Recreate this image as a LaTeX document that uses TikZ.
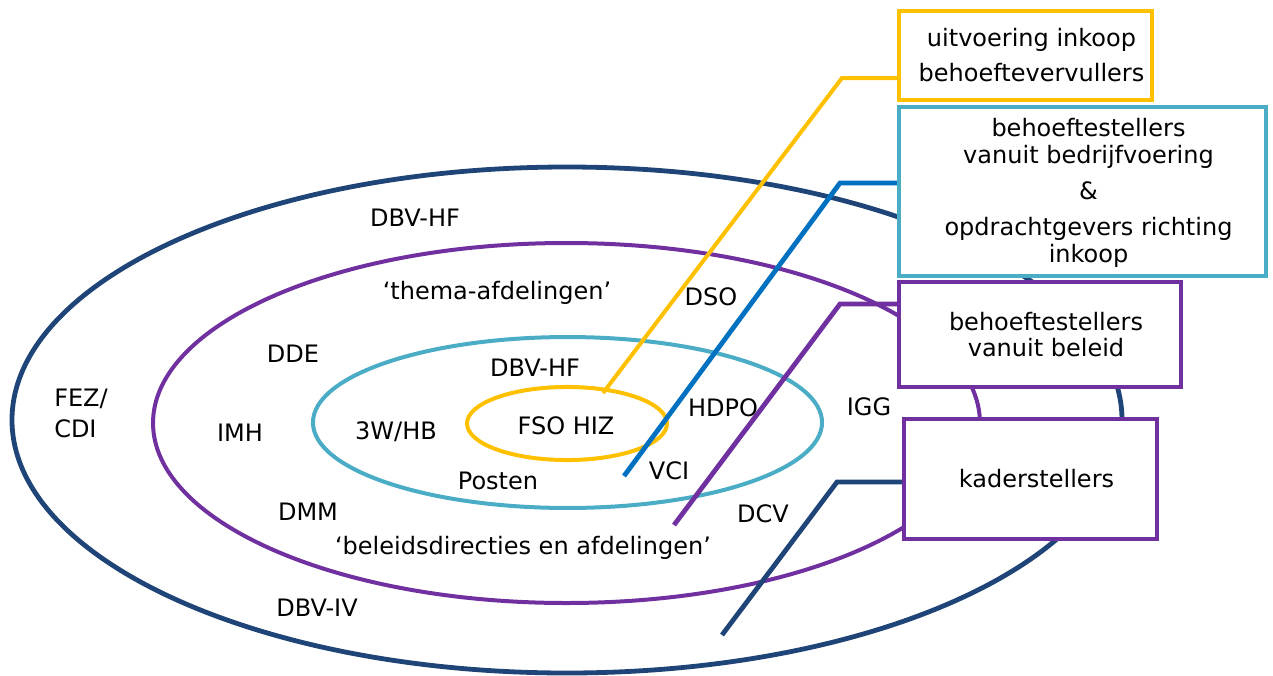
\documentclass[tikz,border=0pt]{standalone}
\usepackage{fontspec}
\setmainfont{DejaVu Sans}
\definecolor{navy}{HTML}{1F4477}
\definecolor{purp}{HTML}{7030A0}
\definecolor{tealc}{HTML}{4BACC6}
\definecolor{gold}{HTML}{FFC000}
\definecolor{bluec}{HTML}{0070C0}
\pgfdeclarelayer{bg}
\pgfsetlayers{bg,main}
\begin{document}
\begin{tikzpicture}[x=0.75pt,y=-0.75pt,
  font=\fontsize{18}{19.8}\selectfont,
  ring/.style={line width=3pt},
  conn/.style={line width=3.6pt},
  box/.style={draw, line width=3pt, fill=white, inner sep=0pt},
  btext/.style={inner sep=0pt, align=center},
  lbl/.style={inner sep=0pt}]
\useasboundingbox (0,0) rectangle (1273,675);

% boxes
\node[box, draw=gold, minimum width=189.75pt, minimum height=66.75pt] (yb) at (1025.5,55.5) {};
\node[btext] (ybt) at ([xshift=4.5pt]yb.center) {uitvoering inkoop\\[6.5pt]behoeftevervullers};
\node[box, draw=tealc, minimum width=275.25pt, minimum height=126.75pt] (tb) at (1082.5,191.5) {};
\node[btext] (tbt) at ([xshift=4.5pt,yshift=-1pt]tb.center)
  {behoeftestellers\\vanuit bedrijfvoering\\[7.5pt]\&\\[7.5pt]opdrachtgevers richting\\inkoop};
\node[box, draw=purp, minimum width=211.5pt, minimum height=78.75pt] (pb) at (1040,334.5) {};
\node[btext] (pbt) at ([xshift=4.5pt]pb.center) {behoeftestellers\\vanuit beleid};
\node[box, draw=purp, minimum width=189.75pt, minimum height=90pt] (kb) at (1030.5,479) {};
\node[btext] (kbt) at ([xshift=4.5pt]kb.center) {kaderstellers};

% rings and connectors
\begin{pgfonlayer}{bg}
\draw[ring, navy, line width=3.6pt] (567,420) ellipse [x radius=416.25pt, y radius=189.75pt];
\draw[ring, purp] (566.5,423) ellipse [x radius=310.1pt, y radius=135pt];
\draw[ring, tealc] (567.5,422.5) ellipse [x radius=190.9pt, y radius=64.1pt];
\draw[ring, gold] (567,423.5) ellipse [x radius=75pt, y radius=27.4pt];

\coordinate (ya) at (603,393);  \coordinate (yk) at (842,78);
\coordinate (ba) at (624,476);  \coordinate (bk) at (840,183);
\coordinate (pa) at (674,525);  \coordinate (pk) at (840,304);
\coordinate (na) at (722,635);  \coordinate (nk) at (837,482);
\draw[conn, gold, line width=3pt] (ya) -- (yk) -- (yk -| yb.west);
\draw[conn, bluec] (ba) -- (bk) -- (bk -| tb.west);
\draw[conn, purp] (pa) -- (pk) -- (pk -| pb.west);
\draw[conn, navy] (na) -- (nk) -- (nk -| kb.west);
\end{pgfonlayer}

% labels
\node[lbl] (l1) at (415,218) {DBV-HF};
\node[lbl] (l2) at (497,293) {‘thema-afdelingen’};
\node[lbl] (l3) at (711,297) {DSO};
\node[lbl] (l4) at (293,354) {DDE};
\node[lbl, align=left, anchor=west] (l5) at (54,413) {FEZ/\\[3.5pt]CDI};
\node[lbl] (l6) at (240,433) {IMH};
\node[lbl] (l7) at (396,432) {3W/HB};
\node[lbl] (l8) at (535,368) {DBV-HF};
\node[lbl] (l9) at (566,426) {FSO HIZ};
\node[lbl] (l10) at (723,408) {HDPO};
\node[lbl] (l11) at (669,471) {VCI};
\node[lbl] (l12) at (498,481) {Posten};
\node[lbl] (l13) at (869,407) {IGG};
\node[lbl] (l14) at (308,512) {DMM};
\node[lbl] (l15) at (523,548) {‘beleidsdirecties en afdelingen’};
\node[lbl] (l16) at (763,514) {DCV};
\node[lbl] (l17) at (317,608) {DBV-IV};
\end{tikzpicture}
\end{document}
